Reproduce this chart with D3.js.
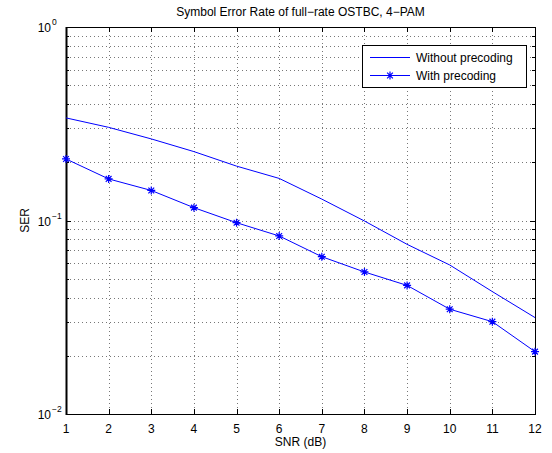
<!DOCTYPE html>
<html>
  <head>
    <meta charset="utf-8" />
    <title>Symbol Error Rate</title>
    <script src="https://d3js.org/d3.v7.min.js"></script>
    <style>
      body {
        margin: 0;
        background: #fff;
      }
      text {
        font-family: "Liberation Sans", Arial, sans-serif;
        fill: #000;
      }
    </style>
  </head>
  <body>

    <svg id="chart"></svg>

    <script>

      var snr = [1, 2, 3, 4, 5, 6, 7, 8, 9, 10, 11, 12];
      var withoutPrecoding = [0.339, 0.303, 0.264, 0.227, 0.191, 0.165, 0.129, 0.0994, 0.0753, 0.0589, 0.0429, 0.0315];
      var withPrecoding = [0.208, 0.164, 0.143, 0.1165, 0.0974, 0.0832, 0.065, 0.0542, 0.0462, 0.0348, 0.030, 0.021];
      var yTicks = [1, 0.1, 0.01];
      var yTickLabels = ["0", "\u22121", "\u22122"];
      var seriesNames = ["Without precoding", "With precoding"];

      var width = 552;
      var height = 453;
      var margin = { top: 27, right: 17, bottom: 39, left: 66 };

      var svg = d3.select("#chart")
        .attr("width", width)
        .attr("height", height);

      var x = d3.scaleLinear()
        .domain([1, 12])
        .range([margin.left, width - margin.right]);

      var y = d3.scaleLog()
        .domain([0.01, 1])
        .range([height - margin.bottom, margin.top]);

      var x0 = x.range()[0], x1 = x.range()[1];
      var y0 = y.range()[0], y1 = y.range()[1];

      // minor values on log axis
      var minorY = [];
      [0.01, 0.1].forEach(function(d) {
        for (var k = 2; k <= 9; k++) minorY.push(d * k);
      });

      // grid
      var grid = svg.append("g")
        .attr("stroke", "#777")
        .attr("stroke-width", 1)
        .attr("stroke-dasharray", "1,3");

      grid.selectAll(".gx")
        .data(snr.slice(1, -1))
        .enter().append("line")
        .attr("x1", function(d) { return Math.round(x(d)) + 0.5; })
        .attr("x2", function(d) { return Math.round(x(d)) + 0.5; })
        .attr("y1", y1)
        .attr("y2", y0);

      grid.selectAll(".gy")
        .data(minorY.concat([0.1]))
        .enter().append("line")
        .attr("x1", x0)
        .attr("x2", x1)
        .attr("y1", function(d) { return Math.round(y(d)) + 0.5; })
        .attr("y2", function(d) { return Math.round(y(d)) + 0.5; });

      // ticks (inward, on all four sides)
      var ticks = svg.append("g").attr("stroke", "#000").attr("stroke-width", 1);

      snr.forEach(function(d) {
        var px = Math.round(x(d)) + 0.5;
        ticks.append("line").attr("x1", px).attr("x2", px).attr("y1", y0).attr("y2", y0 - 5);
        ticks.append("line").attr("x1", px).attr("x2", px).attr("y1", y1).attr("y2", y1 + 5);
      });

      yTicks.forEach(function(d) {
        var py = Math.round(y(d)) + 0.5;
        ticks.append("line").attr("x1", x0).attr("x2", x0 + 5).attr("y1", py).attr("y2", py);
        ticks.append("line").attr("x1", x1).attr("x2", x1 - 5).attr("y1", py).attr("y2", py);
      });

      minorY.forEach(function(d) {
        var py = Math.round(y(d)) + 0.5;
        ticks.append("line").attr("x1", x0).attr("x2", x0 + 3).attr("y1", py).attr("y2", py);
        ticks.append("line").attr("x1", x1).attr("x2", x1 - 3).attr("y1", py).attr("y2", py);
      });

      // axis box
      svg.append("rect")
        .attr("x", x0 + 0.5)
        .attr("y", y1 + 0.5)
        .attr("width", x1 - x0)
        .attr("height", y0 - y1)
        .attr("fill", "none")
        .attr("stroke", "#000")
        .attr("stroke-width", 1);

      svg.append("line")
        .attr("x1", x0 + 0.5).attr("x2", x0 + 0.5)
        .attr("y1", y1).attr("y2", y0 + 1)
        .attr("stroke", "#000")
        .attr("stroke-width", 2);

      // x tick labels
      svg.append("g").selectAll("text")
        .data(snr)
        .enter().append("text")
        .attr("x", function(d) { return x(d); })
        .attr("y", y0 + 19)
        .attr("text-anchor", "middle")
        .attr("font-size", 12)
        .text(function(d) { return d; });

      // y tick labels 10^n
      var yl = svg.append("g").selectAll("g")
        .data(yTicks)
        .enter().append("g")
        .attr("transform", function(d) { return "translate(0," + y(d) + ")"; });

      yl.append("text")
        .attr("x", 51)
        .attr("y", 5)
        .attr("text-anchor", "end")
        .attr("font-size", 12)
        .text("10");

      yl.append("text")
        .attr("x", 52)
        .attr("y", -2)
        .attr("font-size", 8.5)
        .text(function(d, i) { return yTickLabels[i]; });

      // labels
      svg.append("text")
        .attr("x", (x0 + x1) / 2)
        .attr("y", 16)
        .attr("text-anchor", "middle")
        .attr("font-size", 12)
        .text("Symbol Error Rate of full\u2212rate OSTBC, 4\u2212PAM");

      svg.append("text")
        .attr("x", (x0 + x1) / 2)
        .attr("y", 446)
        .attr("text-anchor", "middle")
        .attr("font-size", 12)
        .text("SNR (dB)");

      svg.append("text")
        .attr("transform", "translate(29," + ((y0 + y1) / 2) + ") rotate(-90)")
        .attr("text-anchor", "middle")
        .attr("font-size", 12)
        .text("SER");

      // lines
      var blue = "#0000ff";
      var line = d3.line()
        .x(function(d, i) { return x(snr[i]); })
        .y(function(d) { return y(d); });

      var plot = svg.append("g");

      plot.append("path")
        .datum(withoutPrecoding)
        .attr("d", line)
        .attr("fill", "none")
        .attr("stroke", blue)
        .attr("stroke-width", 1);

      plot.append("path")
        .datum(withPrecoding)
        .attr("d", line)
        .attr("fill", "none")
        .attr("stroke", blue)
        .attr("stroke-width", 1);

      function star(sel, r) {
        sel.append("path")
          .attr("d", "M" + (-r) + ",0H" + r + "M0," + (-r) + "V" + r +
            "M" + (-r * 0.72) + "," + (-r * 0.72) + "L" + (r * 0.72) + "," + (r * 0.72) +
            "M" + (-r * 0.72) + "," + (r * 0.72) + "L" + (r * 0.72) + "," + (-r * 0.72))
          .attr("stroke", blue)
          .attr("stroke-width", 1.2)
          .attr("fill", "none");
      }

      plot.selectAll(".m")
        .data(withPrecoding)
        .enter().append("g")
        .attr("transform", function(d, i) { return "translate(" + x(snr[i]) + "," + y(d) + ")"; })
        .call(star, 4);

      // legend
      var lg = svg.append("g").attr("transform", "translate(362,45)");
      lg.append("rect")
        .attr("x", 0.5).attr("y", 0.5)
        .attr("width", 164).attr("height", 42)
        .attr("fill", "#fff")
        .attr("stroke", "#000")
        .attr("stroke-width", 1);

      seriesNames.forEach(function(name, i) {
        var ly = 12.5 + i * 18;
        lg.append("line")
          .attr("x1", 8).attr("x2", 48)
          .attr("y1", ly).attr("y2", ly)
          .attr("stroke", blue)
          .attr("stroke-width", 1);
        if (i === 1) {
          lg.append("g").attr("transform", "translate(28," + ly + ")").call(star, 4);
        }
        lg.append("text")
          .attr("x", 54)
          .attr("y", ly + 4)
          .attr("font-size", 12)
          .text(name);
      });

    </script>
  </body>
</html>
